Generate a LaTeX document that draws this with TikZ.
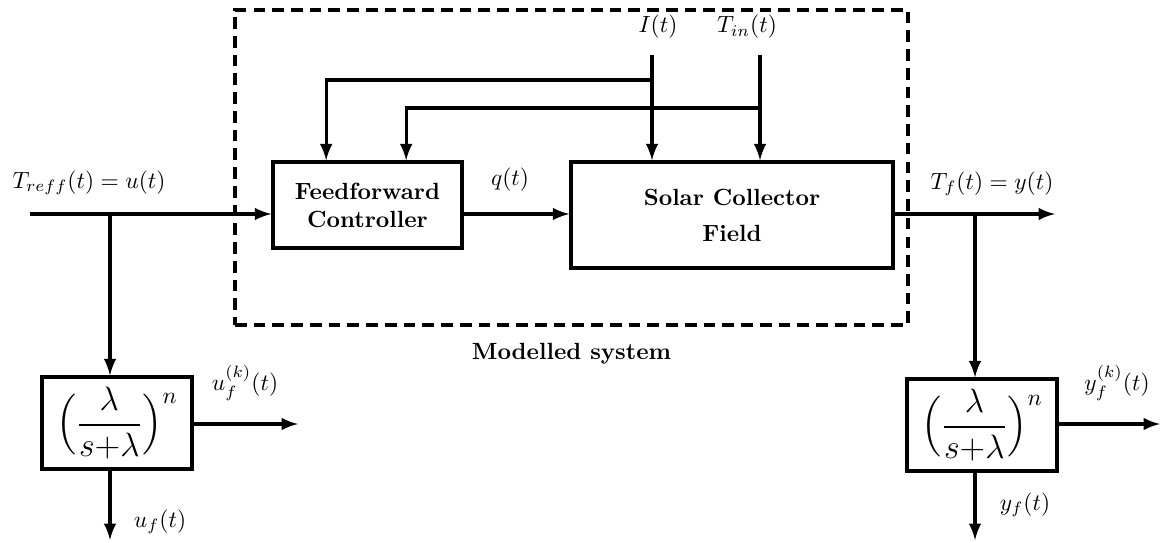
\documentclass[tikz,border=0pt]{standalone}
\usepackage{amsmath}
\usepackage{amssymb}
\usetikzlibrary{positioning}

\begin{document}
\begin{tikzpicture}[x=0.015cm,y=-0.015cm,
  blk/.style={rectangle, draw, line width=1.4pt, align=center, font=\bfseries},
  filt/.style={rectangle, draw, line width=1.4pt, minimum width=2.25cm, minimum height=1.38cm, font=\Large},
  sig/.style={->, >=latex, line width=1.4pt}]
\useasboundingbox (0,0) rectangle (1163,543);

% modelled system
\node[draw, dashed, line width=1.4pt, dash pattern=on 5pt off 3pt, minimum width=10.095cm, minimum height=4.725cm] (MS) at (571.5,167.5) {};
\node[below=0.12cm of MS, font=\bfseries] (MSl) {Modelled system};

\node[blk, minimum width=2.835cm, minimum height=1.29cm] (FF) at (367.5,205) {Feedforward\\ Controller};
\node[blk, minimum width=4.83cm, minimum height=1.59cm] (SC) at (732,215) {Solar Collector\\[1.2mm] Field};

% filters
\node[filt] (LF) at (117,423) {$\Big(\dfrac{\lambda}{s{+}\lambda}\Big)^{n}$};
\node[filt] (RF) at (982,425) {$\Big(\dfrac{\lambda}{s{+}\lambda}\Big)^{n}$};

% points
\coordinate (A) at (30,214);
\coordinate (b1) at (110,214);
\coordinate (b2) at (975,214);
\coordinate (Y) at (1055,214);
\coordinate (Uk) at (298,424);
\coordinate (Yk) at (1160,424);
\coordinate (Uf) at (110,540);
\coordinate (Yf) at (975,540);
\coordinate (Is) at (652,55);
\coordinate (Ts) at (760,55);
\coordinate (bI) at (652,80);
\coordinate (bT) at (760,108);

% labels
\node (Tr) at (89,183) {$T_{reff}(t) = u(t)$};
\node (q) at (510,180) {$q(t)$};
\node (Tf) at (992,184) {$T_f(t) = y(t)$};
\node (I) at (658,27) {$I(t)$};
\node (Tin) at (747,27) {$T_{in}(t)$};
\node (ukl) at (245,383) {$u_f^{(k)}(t)$};
\node (ufl) at (160,522) {$u_f(t)$};
\node (ykl) at (1117,383) {$y_f^{(k)}(t)$};
\node (yfl) at (1025,505) {$y_f(t)$};

% connectors
\draw[sig] (A) -- (FF.west |- A);
\draw[sig] (b1) -- (b1 |- LF.north);
\draw[sig] (b1 |- LF.south) -- (Uf);
\draw[sig] (LF.east |- Uk) -- (Uk);
\draw[sig] (FF.east |- A) -- (SC.west |- A);
\draw[sig] (SC.east |- A) -- (Y);
\draw[sig] (b2) -- (b2 |- RF.north);
\draw[sig] (b2 |- RF.south) -- (Yf);
\draw[sig] (RF.east |- Yk) -- (Yk);
\draw[sig] (Is) -- (Is |- SC.north);
\draw[sig] (Ts) -- (Ts |- SC.north);
\draw[sig] (bI) -| ([xshift=-0.62cm]FF.north);
\draw[sig] (bT) -| ([xshift=0.58cm]FF.north);

\end{tikzpicture}
\end{document}
